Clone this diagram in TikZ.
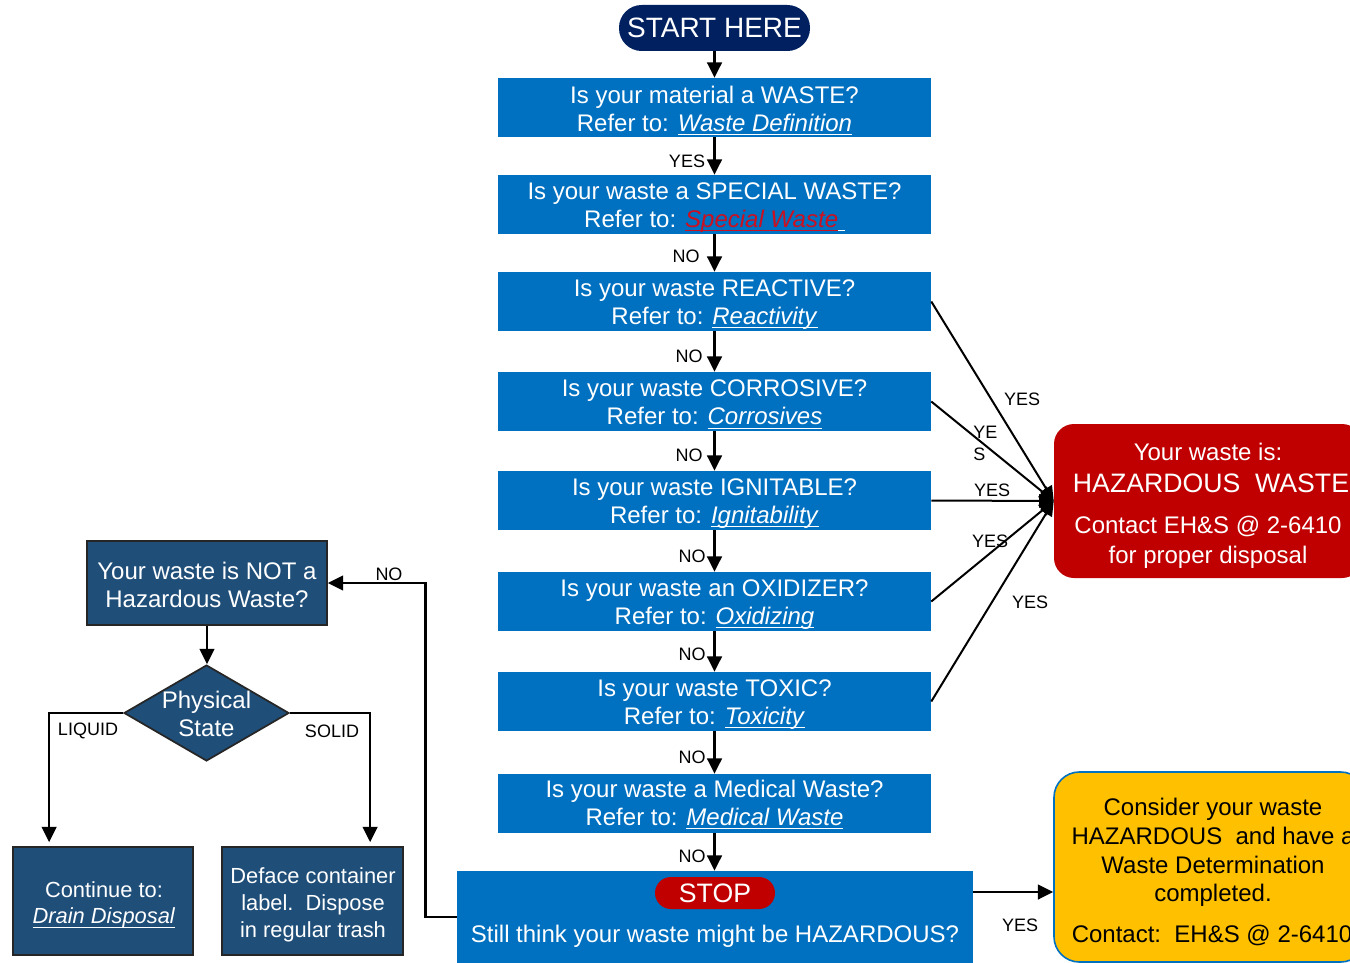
\documentclass[tikz,border=0pt]{standalone}
\usepackage{fontspec}
\setmainfont{Liberation Sans}
\usetikzlibrary{shapes.geometric,arrows.meta,calc}
\definecolor{boxblue}{RGB}{0,112,192}
\definecolor{navy}{RGB}{0,32,96}
\definecolor{hazred}{RGB}{192,0,0}
\definecolor{darkblue}{RGB}{31,78,121}
\definecolor{amber}{RGB}{255,192,0}
\definecolor{spred}{RGB}{204,16,32}
\newcommand{\myul}[1]{\setbox0\hbox{#1}\rlap{\vrule height -2pt depth 3pt width \wd0}\box0}
\newcommand{\lnk}[1]{\myul{\textit{#1}}}
\newcommand{\mainfs}{\fontsize{18}{21}\selectfont}
\newcommand{\smfs}{\fontsize{16.4}{20}\selectfont}
\newcommand{\lblfs}{\fontsize{13.5}{16}\selectfont}
\newcommand{\bigfs}{\fontsize{20}{24}\selectfont}
\begin{document}
\begin{tikzpicture}[x=0.75pt,y=-0.75pt,
  qbox/.style={rectangle, fill=boxblue, minimum width=324.75pt, minimum height=44.25pt, inner sep=0pt},
  dbox/.style={rectangle, fill=darkblue, draw=black!85, line width=1.3pt, inner sep=0pt},
  arr/.style={line width=1.9pt, -{Triangle[length=11.5pt,width=11pt]}},
  harr/.style={line width=1.5pt, -{Triangle[length=11pt,width=10pt]}},
  lbl/.style={font=\lblfs, inner sep=0pt},
  txt/.style={text=white, inner sep=0pt, align=center, font=\mainfs}
]
\path[use as bounding box] (0,0) rectangle (1350,963);
\clip (0,0) rectangle (1350,963);

% start
\node[rectangle, rounded corners=17pt, fill=navy, minimum width=143.25pt, minimum height=34.5pt, text=white, font=\fontsize{21}{24}\selectfont, inner sep=0pt] (start) at (714.5,28) {START HERE};

% question boxes
\node[qbox] (b1) at (714.5,107.5) {};
\node[qbox] (b2) at (714.5,204.5) {};
\node[qbox] (b3) at (714.5,301.5) {};
\node[qbox] (b4) at (714.5,401.5) {};
\node[qbox] (b5) at (714.5,500.5) {};
\node[qbox] (b6) at (714.5,601.5) {};
\node[qbox] (b7) at (714.5,701.5) {};
\node[qbox] (b8) at (714.5,803.5) {};
\node[txt] (t1) at ($(b1)+(0,3)$) {Is your material a WASTE?\\Refer to: \lnk{Waste Definition}};
\node[txt] (t2) at ($(b2)+(0,3)$) {Is your waste a SPECIAL WASTE?\\Refer to: \textcolor{spred}{\lnk{Special Waste}}\myul{\ }};
\node[txt] (t3) at ($(b3)+(0,3)$) {Is your waste REACTIVE?\\Refer to: \lnk{Reactivity}};
\node[txt] (t4) at ($(b4)+(0,3)$) {Is your waste CORROSIVE?\\Refer to: \lnk{Corrosives}};
\node[txt] (t5) at ($(b5)+(0,3)$) {Is your waste IGNITABLE?\\Refer to: \lnk{Ignitability}};
\node[txt] (t6) at ($(b6)+(0,3)$) {Is your waste an OXIDIZER?\\Refer to: \lnk{Oxidizing}};
\node[txt] (t7) at ($(b7)+(0,3)$) {Is your waste TOXIC?\\Refer to: \lnk{Toxicity}};
\node[txt] (t8) at ($(b8)+(0,1)$) {Is your waste a Medical Waste?\\Refer to: \lnk{Medical Waste}};

% stop box
\node[rectangle, fill=boxblue, minimum width=387pt, minimum height=69pt, inner sep=0pt] (stopbox) at (715,917) {};
\node[rectangle, rounded corners=12pt, fill=hazred, minimum width=90pt, minimum height=24pt, text=white, font=\bigfs, inner sep=0pt] (stop) at (715,893) {STOP};
\node[txt] (stoptxt) at (715,936) {Still think your waste might be HAZARDOUS?};

% hazardous box
\node[rectangle, rounded corners=15pt, fill=hazred, minimum width=231pt, minimum height=115.5pt, inner sep=0pt] (haz) at (1208,501) {};
\node[txt] (h1) at (1208,452) {Your waste is:};
\node[txt, font=\bigfs] (h2) at (1211,483) {HAZARDOUS\ \ WASTE};
\node[txt] (h3) at (1208,526) {Contact EH\&S @ 2-6410};
\node[txt] (h4) at (1208,557) {for proper disposal};

% yellow box
\node[rectangle, rounded corners=19pt, fill=amber, draw=boxblue, line width=1.2pt, minimum width=234pt, minimum height=142.5pt, inner sep=0pt] (yel) at (1210,867) {};
\node[inner sep=0pt, align=center, font=\fontsize{18}{21.5}\selectfont] (y1) at (1213,852.5) {Consider your waste\\HAZARDOUS\ \ and have a\\Waste Determination\\completed.};
\node[inner sep=0pt, font=\mainfs] (y2) at (1212,935) {Contact:\ \ EH\&S @ 2-6410};

% left side
\node[dbox, minimum width=180pt, minimum height=63pt] (notb) at (207,583) {};
\node[txt] (nottxt) at (207,585) {Your waste is NOT a\\Hazardous Waste?};
\node[diamond, fill=darkblue, draw=black!85, line width=1.3pt, minimum width=123.75pt, minimum height=72pt, inner sep=0pt] (dia) at (206.5,713) {};
\node[txt] (diatxt) at (206.5,714) {Physical\\State};
\node[dbox, minimum width=135pt, minimum height=81pt] (cont) at (103,901) {};
\node[txt, font=\smfs] (conttxt) at (104,905) {Continue to:\\\lnk{Drain Disposal}};
\node[dbox, minimum width=135.75pt, minimum height=81pt] (defb) at (312.5,901) {};
\node[txt, font=\smfs] (deftxt) at (313,905) {Deface container\\label.\ \ Dispose\\in regular trash};

% vertical chain
\draw[arr] (start) -- (b1);
\draw[arr] (b1) -- (b2);
\draw[arr] (b2) -- (b3);
\draw[arr] (b3) -- (b4);
\draw[arr] (b4) -- (b5);
\draw[arr] (b5) -- (b6);
\draw[arr] (b6) -- (b7);
\draw[arr] (b7) -- (b8);
\draw[arr] (b8.south) -- (b8.south |- stopbox.north);
\node[lbl] (l1) at (687,161) {YES};
\node[lbl] (l2) at (686,256) {NO};
\node[lbl] (l3) at (689,356) {NO};
\node[lbl] (l4) at (689,455) {NO};
\node[lbl] (l5) at (692,556) {NO};
\node[lbl] (l6) at (692,654) {NO};
\node[lbl] (l7) at (692,757) {NO};
\node[lbl] (l8) at (692,856) {NO};

% to hazardous
\draw[harr] (b3.east) -- (haz.west);
\draw[harr] (b4.east) -- (haz.west);
\draw[harr] (b5.east) -- (haz.west);
\draw[harr] (b6.east) -- (haz.west);
\draw[harr] (b7.east) -- (haz.west);
\node[lbl] (y3) at (1022,399) {YES};
\node[lbl, align=left, anchor=west, font=\fontsize{13.5}{16.5}\selectfont] (y4) at (973,443) {YE\\S};
\node[lbl] (y5) at (992,490) {YES};
\node[lbl] (y6) at (990,541) {YES};
\node[lbl] (y7) at (1030,602) {YES};

% stop to yellow
\draw[arr] ([yshift=18.75pt]stopbox.east) -- ([yshift=-18.75pt]yel.west);
\node[lbl] (ys) at (1020,925) {YES};

% stop to not-hazardous
\draw[arr] (stopbox.west) -- ++(-31,0) |- (notb.east);
\node[lbl] (ln) at (389,574) {NO};
\draw[arr] (notb.south) -- (notb.south |- dia.north);
\draw[arr, shorten >=3pt] (dia.west) -| ([xshift=27.75pt]cont.north west);
\node[lbl] (lq) at (88,731) {LIQUID};
\draw[arr, shorten >=3pt] (dia.east) -| ([xshift=111.75pt]defb.north west);
\node[lbl] (ls) at (332,731) {SOLID};
\end{tikzpicture}
\end{document}
